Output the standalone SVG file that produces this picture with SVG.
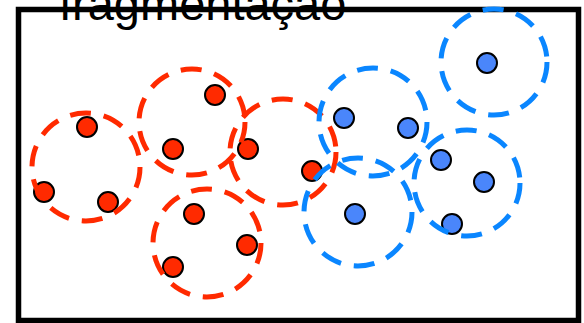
<svg xmlns="http://www.w3.org/2000/svg" width="584" height="323" viewBox="0 0 584 323">
  <style>
    .frame { fill: none; stroke: #000; stroke-width: 5.5; }
    .title { font-family: "Liberation Sans", Arial, sans-serif; font-size: 47px; fill: #000; }
    .dot { stroke: #000; stroke-width: 2; }
    .dot.red { fill: #ff2a00; }
    .dot.blue { fill: #4a86fb; }
    .ring { fill: none; stroke-width: 5; stroke-dasharray: 21 13; }
    .ring.red { stroke: #ff2a00; }
    .ring.blue { stroke: #0a86ff; }
  </style>

  <rect class="frame" x="18.5" y="9.5" width="560" height="311"/>
  <text class="title" x="59" y="20">fragmentação</text>

  <!-- points -->
  <g id="points">
    <circle id="r1" class="dot red" cx="87" cy="127" r="10"/>
    <circle id="r2" class="dot red" cx="44" cy="192" r="10"/>
    <circle id="r3" class="dot red" cx="108" cy="202" r="10"/>
    <circle id="r4" class="dot red" cx="215" cy="95" r="10"/>
    <circle id="r5" class="dot red" cx="173" cy="149" r="10"/>
    <circle id="r6" class="dot red" cx="248" cy="149" r="10"/>
    <circle id="r7" class="dot red" cx="312" cy="171" r="10"/>
    <circle id="r8" class="dot red" cx="194" cy="214" r="10"/>
    <circle id="r9" class="dot red" cx="247" cy="245" r="10"/>
    <circle id="r10" class="dot red" cx="173" cy="267" r="10"/>
    <circle id="b1" class="dot blue" cx="344" cy="118" r="10"/>
    <circle id="b2" class="dot blue" cx="408" cy="128" r="10"/>
    <circle id="b3" class="dot blue" cx="441" cy="160" r="10"/>
    <circle id="b4" class="dot blue" cx="484" cy="182" r="10"/>
    <circle id="b5" class="dot blue" cx="452" cy="224" r="10"/>
    <circle id="b6" class="dot blue" cx="355" cy="214" r="10"/>
    <circle id="b7" class="dot blue" cx="487" cy="63" r="10"/>
  </g>

  <!-- cluster rings -->
  <g id="clusters">
    <circle id="c-red-1" class="ring red" cx="86" cy="167" r="54"/>
    <circle id="c-red-2" class="ring red" cx="192" cy="122" r="53"/>
    <circle id="c-red-3" class="ring red" cx="283" cy="152" r="53"/>
    <circle id="c-red-4" class="ring red" cx="207" cy="243" r="54"/>
    <circle id="c-blue-1" class="ring blue" cx="373" cy="122" r="54"/>
    <circle id="c-blue-2" class="ring blue" cx="358" cy="212" r="54"/>
    <circle id="c-blue-3" class="ring blue" cx="467" cy="183" r="53"/>
    <circle id="c-blue-4" class="ring blue" cx="494" cy="62" r="53"/>
  </g>
</svg>
